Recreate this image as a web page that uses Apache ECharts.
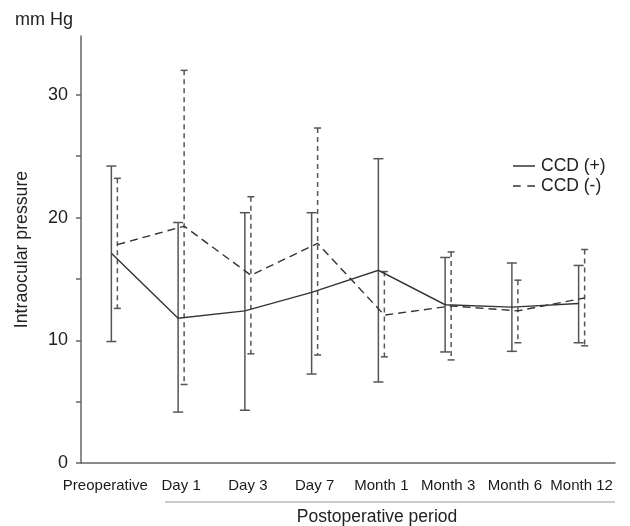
<!DOCTYPE html>
<html>
<head>
<meta charset="utf-8">
<style>
html,body{margin:0;padding:0;background:#fff;}
#chart{width:630px;height:526px;}
</style>
<script src="https://cdn.jsdelivr.net/npm/echarts@6/dist/echarts.min.js"></script>
</head>
<body>
<div id="chart"></div>
<script>
const categories = ['Preoperative', 'Day 1', 'Day 3', 'Day 7', 'Month 1', 'Month 3', 'Month 6', 'Month 12'];
const ccdPlusMean = [17.1, 11.8, 12.4, 13.9, 15.7, 12.9, 12.7, 13.0];
const ccdPlusLow = [9.9, 4.15, 4.3, 7.25, 6.6, 9.05, 9.1, 9.8];
const ccdPlusHigh = [24.2, 19.6, 20.4, 20.4, 24.8, 16.75, 16.3, 16.1];
const ccdMinusMean = [17.8, 19.3, 15.3, 17.9, 12.05, 12.8, 12.4, 13.45];
const ccdMinusLow = [12.6, 6.4, 8.9, 8.8, 8.65, 8.4, 9.8, 9.55];
const ccdMinusHigh = [23.2, 32.0, 21.7, 27.3, 15.6, 17.2, 14.9, 17.4];
const yTickValues = [0, 5, 10, 15, 20, 25, 30];
const yLabelValues = [0, 10, 20, 30];

const FONT = '"Liberation Sans", Arial, Helvetica, sans-serif';
const BAR_COLOR = '#555555';
const LINE_COLOR = '#333333';

function meanLine(offset, dash) {
  return function (params, api) {
    if (params.dataIndexInside !== 0) return null;
    const pts = [];
    for (let k = 0; k < params.dataInsideLength; k++) {
      const p = api.coord([api.value(0, k), api.value(1, k)]);
      pts.push([p[0] + offset, p[1]]);
    }
    return {
      type: 'polyline',
      shape: { points: pts },
      style: { stroke: LINE_COLOR, lineWidth: 1.4, fill: null, lineDash: dash }
    };
  };
}

function errorBar(offset, dash, cap) {
  return function (params, api) {
    const i = api.value(0);
    const lo = api.coord([i, api.value(1)]);
    const hi = api.coord([i, api.value(2)]);
    const x = lo[0] + offset;
    const st = { stroke: BAR_COLOR, lineWidth: 1.5, fill: null };
    return {
      type: 'group',
      children: [
        { type: 'line', shape: { x1: x, y1: hi[1], x2: x, y2: lo[1] }, style: Object.assign({}, st, { lineDash: dash }) },
        { type: 'line', shape: { x1: x - cap, y1: hi[1], x2: x + cap, y2: hi[1] }, style: st },
        { type: 'line', shape: { x1: x - cap, y1: lo[1], x2: x + cap, y2: lo[1] }, style: st }
      ]
    };
  };
}

const xAxisData = categories.map((c, i) => i === 0 ? { value: c, textStyle: { padding: [0, 18, 0, 0] } } : c);

const chart = echarts.init(document.getElementById('chart'), null, { renderer: 'canvas' });
const option = {
  animation: false,
  backgroundColor: '#ffffff',
  textStyle: { fontFamily: FONT },
  grid: { left: 81, top: 36, width: 534, height: 427, containLabel: false },
  legend: {
    orient: 'vertical',
    left: 508,
    top: 152,
    itemWidth: 22,
    itemHeight: 2,
    itemGap: 2,
    textStyle: { fontSize: 17.5, color: '#222', fontFamily: FONT, padding: [0, 0, 0, 1] },
    data: [
      { name: 'CCD (+)', icon: 'path://M0,0H22V1.5H0Z', itemStyle: { color: LINE_COLOR } },
      { name: 'CCD (-)', icon: 'path://M0,0H7V1.5H0Z M13,0H20V1.5H13Z', itemStyle: { color: LINE_COLOR } }
    ]
  },
  xAxis: {
    type: 'category',
    data: xAxisData,
    boundaryGap: true,
    axisLine: { lineStyle: { color: '#666', width: 1.5 } },
    axisTick: { alignWithLabel: true, length: 5, lineStyle: { color: '#666', width: 1.5 } },
    axisLabel: { fontSize: 15, color: '#1a1a1a', margin: 15, fontFamily: FONT, interval: 0 }
  },
  yAxis: {
    type: 'value',
    min: 0,
    max: 34.8,
    interval: 5,
    name: 'Intraocular pressure',
    nameLocation: 'middle',
    nameGap: 50,
    nameTextStyle: { fontSize: 17.7, color: '#222', fontFamily: FONT },
    splitLine: { show: false },
    axisLine: { show: true, lineStyle: { color: '#666', width: 1.5 } },
    axisTick: { show: true, length: 5, customValues: yTickValues, lineStyle: { color: '#666', width: 1.5 } },
    axisLabel: { fontSize: 18, color: '#222', margin: 13, customValues: yLabelValues, fontFamily: FONT }
  },
  graphic: [
    { type: 'text', left: 15, top: 11, style: { text: 'mm Hg', fontSize: 18, fill: '#222', fontFamily: FONT } },
    { type: 'line', shape: { x1: 165, y1: 502, x2: 615, y2: 502 }, style: { stroke: '#999', lineWidth: 1 } },
    { type: 'text', x: 377, y: 517, style: { text: 'Postoperative period', fontSize: 17.5, fill: '#222', fontFamily: FONT, align: 'center', verticalAlign: 'middle' } }
  ],
  series: [
    {
      name: 'CCD (+)', type: 'custom', renderItem: errorBar(-3, null, 5),
      data: categories.map((c, i) => [i, ccdPlusLow[i], ccdPlusHigh[i]]),
      itemStyle: { color: LINE_COLOR }, encode: { x: 0, y: [1, 2] }, z: 2
    },
    {
      name: 'CCD (-)', type: 'custom', renderItem: errorBar(3, [5, 4], 3.5),
      data: categories.map((c, i) => [i, ccdMinusLow[i], ccdMinusHigh[i]]),
      itemStyle: { color: LINE_COLOR }, encode: { x: 0, y: [1, 2] }, z: 2
    },
    {
      name: 'CCD (+)', type: 'custom', renderItem: meanLine(-3, null),
      data: categories.map((c, i) => [i, ccdPlusMean[i]]),
      itemStyle: { color: LINE_COLOR }, encode: { x: 0, y: 1 }, z: 3
    },
    {
      name: 'CCD (-)', type: 'custom', renderItem: meanLine(3, [8, 5]),
      data: categories.map((c, i) => [i, ccdMinusMean[i]]),
      itemStyle: { color: LINE_COLOR }, encode: { x: 0, y: 1 }, z: 3
    }
  ]
};
chart.setOption(option);
</script>
</body>
</html>
